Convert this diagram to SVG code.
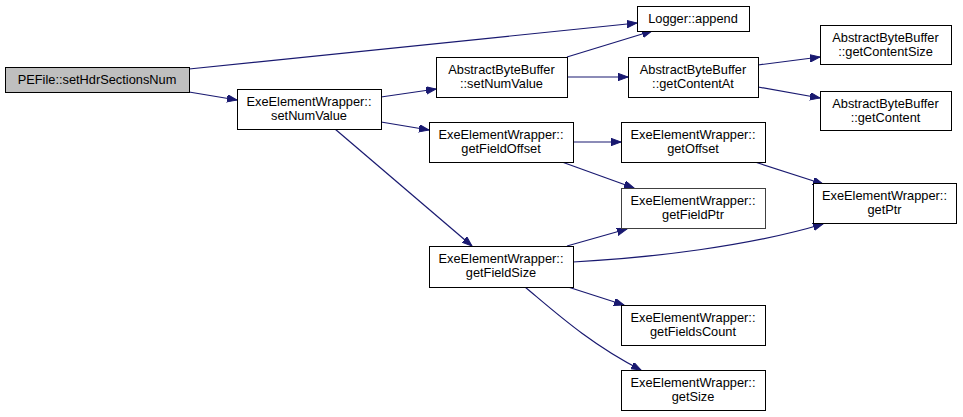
<svg xmlns="http://www.w3.org/2000/svg" width="963" height="417" viewBox="0 0 963 417">
<style>
.n rect{fill:#ffffff;stroke:#000000;stroke-width:1;shape-rendering:crispEdges}
.n.root rect{fill:#bfbfbf}
.n.grey rect{stroke:#404040}
.n text{font-family:"Liberation Sans",Arial,sans-serif;font-size:12.8px;fill:#000000;text-anchor:middle}
.e path{fill:none;stroke:#191970;stroke-width:1.2}
</style>
<defs>
<marker id="ah" markerUnits="userSpaceOnUse" markerWidth="11" markerHeight="8" refX="10" refY="3.7" orient="auto">
<path d="M0,0 L10,3.7 L0,7.4 z" fill="#191970" stroke="#191970" stroke-width="1"/>
</marker>
</defs>
<rect width="963" height="417" fill="#ffffff"/>
<g id="edges" class="e">
<path d="M189,69 L637,23" marker-end="url(#ah)"/>
<path d="M189,92 L237,100" marker-end="url(#ah)"/>
<path d="M381,97 L436,89" marker-end="url(#ah)"/>
<path d="M381,122 L429,130" marker-end="url(#ah)"/>
<path d="M335,129 L472,246" marker-end="url(#ah)"/>
<path d="M567,57 L652,31" marker-end="url(#ah)"/>
<path d="M567,77 L628,77" marker-end="url(#ah)"/>
<path d="M758,65 L820,57" marker-end="url(#ah)"/>
<path d="M758,87 L820,98" marker-end="url(#ah)"/>
<path d="M573,142 L621,142" marker-end="url(#ah)"/>
<path d="M562,162 L634,188" marker-end="url(#ah)"/>
<path d="M755,162 L823,184" marker-end="url(#ah)"/>
<path d="M567,246 L627,229" marker-end="url(#ah)"/>
<path d="M573,262 C650,258 750,246 823,224" marker-end="url(#ah)"/>
<path d="M568,287 L624,305" marker-end="url(#ah)"/>
<path d="M525,287 C555,312 590,344 641,370" marker-end="url(#ah)"/>
</g>
<g id="PEFile_setHdrSectionsNum" class="n root">
<rect x="5" y="67" width="184" height="25"/>
<text x="97" y="84">PEFile::setHdrSectionsNum</text>
</g>
<g id="EEW_setNumValue" class="n">
<rect x="237" y="89" width="144" height="40"/>
<text x="309" y="106">ExeElementWrapper::</text>
<text x="309" y="120">setNumValue</text>
</g>
<g id="Logger_append" class="n">
<rect x="637" y="6" width="112" height="25"/>
<text x="693" y="23">Logger::append</text>
</g>
<g id="ABB_setNumValue" class="n">
<rect x="436" y="57" width="131" height="40"/>
<text x="501.5" y="74">AbstractByteBuffer</text>
<text x="501.5" y="88">::setNumValue</text>
</g>
<g id="ABB_getContentAt" class="n">
<rect x="628" y="57" width="130" height="40"/>
<text x="693" y="74">AbstractByteBuffer</text>
<text x="693" y="88">::getContentAt</text>
</g>
<g id="ABB_getContentSize" class="n">
<rect x="820" y="25" width="131" height="39"/>
<text x="885.5" y="42">AbstractByteBuffer</text>
<text x="885.5" y="56">::getContentSize</text>
</g>
<g id="ABB_getContent" class="n">
<rect x="820" y="91" width="131" height="39"/>
<text x="885.5" y="108">AbstractByteBuffer</text>
<text x="885.5" y="122">::getContent</text>
</g>
<g id="EEW_getFieldOffset" class="n">
<rect x="429" y="122" width="144" height="40"/>
<text x="501" y="139">ExeElementWrapper::</text>
<text x="501" y="153">getFieldOffset</text>
</g>
<g id="EEW_getOffset" class="n">
<rect x="621" y="122" width="144" height="40"/>
<text x="693" y="139">ExeElementWrapper::</text>
<text x="693" y="153">getOffset</text>
</g>
<g id="EEW_getFieldPtr" class="n grey">
<rect x="621" y="188" width="144" height="40"/>
<text x="693" y="205">ExeElementWrapper::</text>
<text x="693" y="219">getFieldPtr</text>
</g>
<g id="EEW_getPtr" class="n">
<rect x="813" y="183" width="143" height="40"/>
<text x="884.5" y="200">ExeElementWrapper::</text>
<text x="884.5" y="214">getPtr</text>
</g>
<g id="EEW_getFieldSize" class="n">
<rect x="429" y="246" width="144" height="41"/>
<text x="501" y="263">ExeElementWrapper::</text>
<text x="501" y="277">getFieldSize</text>
</g>
<g id="EEW_getFieldsCount" class="n">
<rect x="621" y="305" width="144" height="40"/>
<text x="693" y="322">ExeElementWrapper::</text>
<text x="693" y="336">getFieldsCount</text>
</g>
<g id="EEW_getSize" class="n">
<rect x="621" y="370" width="144" height="40"/>
<text x="693" y="387">ExeElementWrapper::</text>
<text x="693" y="401">getSize</text>
</g>
</svg>
